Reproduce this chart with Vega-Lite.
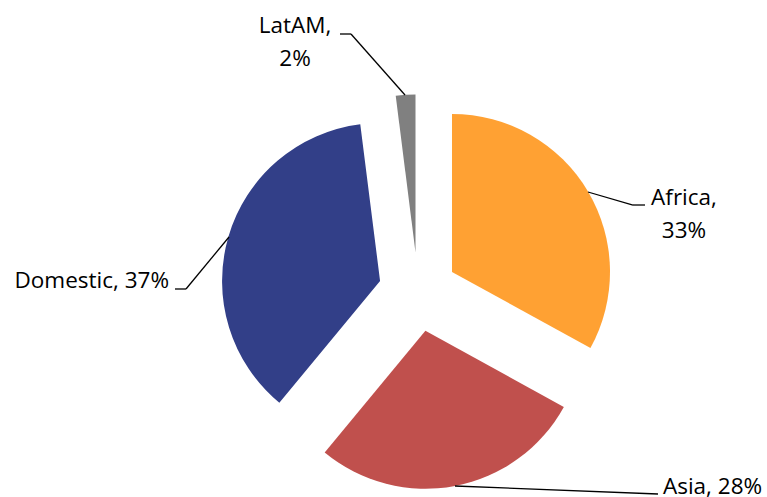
{
  "$schema": "https://vega.github.io/schema/vega-lite/v6.json",
  "width": 767,
  "height": 497,
  "autosize": "none",
  "padding": 0,
  "background": "white",
  "config": {"view": {"stroke": null}},
  "data": {"values": [
    {"cat": "Africa", "value": 33},
    {"cat": "Asia", "value": 28},
    {"cat": "Domestic", "value": 37},
    {"cat": "LatAM", "value": 2}
  ]},
  "transform": [
    {"window": [{"op": "sum", "field": "value", "as": "end"}], "sort": [{"field": "cat"}], "frame": [null, 0]},
    {"calculate": "datum.end - datum.value", "as": "start"},
    {"calculate": "(datum.start + datum.end) / 200 * 2 * PI", "as": "mid"},
    {"calculate": "0.25 * sin(datum.mid)", "as": "cx"},
    {"calculate": "0.25 * cos(datum.mid)", "as": "cy"},
    {"calculate": "datum.cat + ', ' + datum.value + '%'", "as": "lbl1"},
    {"calculate": "[datum.cat + ',', datum.value + '%']", "as": "lbl2"}
  ],
  "layer": [
    {
      "mark": {"type": "arc", "radius": 158},
      "encoding": {
        "theta": {"field": "start", "type": "quantitative", "scale": {"domain": [0, 100]}},
        "theta2": {"field": "end"},
        "x": {"field": "cx", "type": "quantitative", "scale": {"domain": [-2.6456, 2.2089], "nice": false, "zero": false}, "axis": null},
        "y": {"field": "cy", "type": "quantitative", "scale": {"domain": [-1.2975, 1.8481], "nice": false, "zero": false}, "axis": null},
        "color": {"field": "cat", "type": "nominal", "legend": null,
          "scale": {"domain": ["Africa", "Asia", "Domestic", "LatAM"], "range": ["#FFA133", "#C0504D", "#323F88", "#808080"]}}
      }
    },
    {
      "transform": [{"filter": "datum.cat == 'LatAM'"}],
      "mark": {"type": "text", "font": "Open Sans", "fontSize": 22.5, "align": "center", "baseline": "alphabetic", "lineHeight": 33, "color": "black"},
      "encoding": {"x": {"datum": -0.7785, "type": "quantitative"}, "y": {"datum": 1.6392, "type": "quantitative"}, "text": {"field": "lbl2"}}
    },
    {
      "transform": [{"filter": "datum.cat == 'Africa'"}],
      "mark": {"type": "text", "font": "Open Sans", "fontSize": 22.5, "align": "center", "baseline": "alphabetic", "lineHeight": 33, "color": "black"},
      "encoding": {"x": {"datum": 1.6835, "type": "quantitative"}, "y": {"datum": 0.5506, "type": "quantitative"}, "text": {"field": "lbl2"}}
    },
    {
      "transform": [{"filter": "datum.cat == 'Domestic'"}],
      "mark": {"type": "text", "font": "Open Sans", "fontSize": 22.5, "align": "right", "baseline": "alphabetic", "color": "black"},
      "encoding": {"x": {"datum": -1.5759, "type": "quantitative"}, "y": {"datum": 0.0253, "type": "quantitative"}, "text": {"field": "lbl1"}}
    },
    {
      "transform": [{"filter": "datum.cat == 'Asia'"}],
      "mark": {"type": "text", "font": "Open Sans", "fontSize": 22.5, "align": "left", "baseline": "alphabetic", "color": "black"},
      "encoding": {"x": {"datum": 1.5506, "type": "quantitative"}, "y": {"datum": -1.2785, "type": "quantitative"}, "text": {"field": "lbl1"}}
    },
    {
      "transform": [{"filter": "datum.cat == 'LatAM'"}],
      "mark": {"type": "rule", "color": "black", "strokeWidth": 1.3},
      "encoding": {"x": {"datum": -0.4937, "type": "quantitative"}, "y": {"datum": 1.6329, "type": "quantitative"}, "x2": {"datum": -0.4241}, "y2": {"datum": 1.6329}}
    },
    {
      "transform": [{"filter": "datum.cat == 'LatAM'"}],
      "mark": {"type": "rule", "color": "black", "strokeWidth": 1.3},
      "encoding": {"x": {"datum": -0.4241, "type": "quantitative"}, "y": {"datum": 1.6329, "type": "quantitative"}, "x2": {"datum": -0.0823}, "y2": {"datum": 1.2468}}
    },
    {
      "transform": [{"filter": "datum.cat == 'Africa'"}],
      "mark": {"type": "rule", "color": "black", "strokeWidth": 1.3},
      "encoding": {"x": {"datum": 1.0759, "type": "quantitative"}, "y": {"datum": 0.6329, "type": "quantitative"}, "x2": {"datum": 1.3608}, "y2": {"datum": 0.5506}}
    },
    {
      "transform": [{"filter": "datum.cat == 'Africa'"}],
      "mark": {"type": "rule", "color": "black", "strokeWidth": 1.3},
      "encoding": {"x": {"datum": 1.3608, "type": "quantitative"}, "y": {"datum": 0.5506, "type": "quantitative"}, "x2": {"datum": 1.4367}, "y2": {"datum": 0.5506}}
    },
    {
      "transform": [{"filter": "datum.cat == 'Domestic'"}],
      "mark": {"type": "rule", "color": "black", "strokeWidth": 1.3},
      "encoding": {"x": {"datum": -1.5380, "type": "quantitative"}, "y": {"datum": 0.0190, "type": "quantitative"}, "x2": {"datum": -1.4684}, "y2": {"datum": 0.0190}}
    },
    {
      "transform": [{"filter": "datum.cat == 'Domestic'"}],
      "mark": {"type": "rule", "color": "black", "strokeWidth": 1.3},
      "encoding": {"x": {"datum": -1.4684, "type": "quantitative"}, "y": {"datum": 0.0190, "type": "quantitative"}, "x2": {"datum": -1.1962}, "y2": {"datum": 0.3481}}
    },
    {
      "transform": [{"filter": "datum.cat == 'Asia'"}],
      "mark": {"type": "rule", "color": "black", "strokeWidth": 1.3},
      "encoding": {"x": {"datum": 0.2342, "type": "quantitative"}, "y": {"datum": -1.2278, "type": "quantitative"}, "x2": {"datum": 1.5190}, "y2": {"datum": -1.2785}}
    }
  ]
}
